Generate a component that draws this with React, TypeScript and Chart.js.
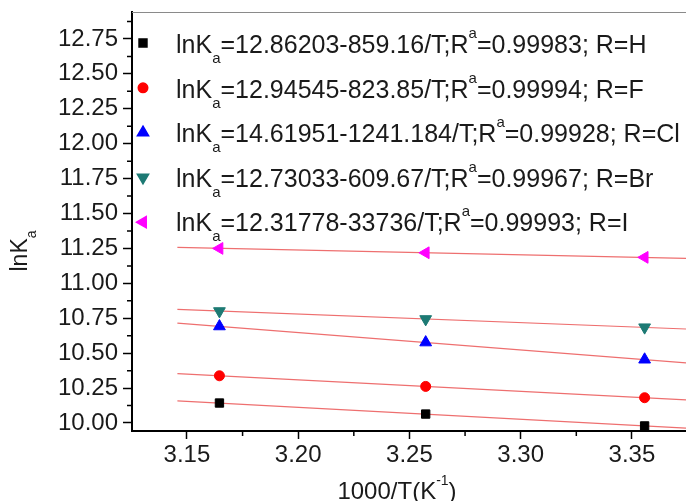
import React, { useEffect, useRef } from 'react';
import { Chart, registerables } from 'chart.js';
import { drawPoint } from 'chart.js/helpers';

Chart.register(...registerables);

// ---------- data ----------
const seriesNames = ['H', 'F', 'Cl', 'Br', 'I'];
const legendLabels = [
  'lnK_{a}=12.86203-859.16/T;R^{a}=0.99983; R=H',
  'lnK_{a}=12.94545-823.85/T;R^{a}=0.99994; R=F',
  'lnK_{a}=14.61951-1241.184/T;R^{a}=0.99928; R=Cl',
  'lnK_{a}=12.73033-609.67/T;R^{a}=0.99967; R=Br',
  'lnK_{a}=12.31778-33736/T;R^{a}=0.99993; R=I',
];
const invT = [3.1646, 3.2573, 3.3557];
const lnKaH = [10.143, 10.064, 9.979];
const lnKaF = [10.338, 10.262, 10.181];
const lnKaCl = [10.692, 10.577, 10.454];
const lnKaBr = [10.801, 10.744, 10.685];
const lnKaI = [11.25, 11.219, 11.186];
const seriesValues = [lnKaH, lnKaF, lnKaCl, lnKaBr, lnKaI];

const fitX = [3.1457, 3.3743];
const fitH = [10.159, 9.963];
const fitF = [10.354, 10.166];
const fitCl = [10.715, 10.431];
const fitBr = [10.813, 10.673];
const fitI = [11.257, 11.179];
const fitValues = [fitH, fitF, fitCl, fitBr, fitI];

const xTicks = [3.15, 3.2, 3.25, 3.3, 3.35];
const xTickLabels = ['3.15', '3.20', '3.25', '3.30', '3.35'];
const xMinorTicks = [3.175, 3.225, 3.275, 3.325];
const yTicks = [10.0, 10.25, 10.5, 10.75, 11.0, 11.25, 11.5, 11.75, 12.0, 12.25, 12.5, 12.75];
const yTickLabels = ['10.00', '10.25', '10.50', '10.75', '11.00', '11.25', '11.50', '11.75', '12.00', '12.25', '12.50', '12.75'];
const yMinorTicks = [10.125, 10.375, 10.625, 10.875, 11.125, 11.375, 11.625, 11.875, 12.125, 12.375, 12.625, 12.875];
const xTitle = '1000/T(K^{-1})';
const yTitle = 'lnK_{a}';

// ---------- styles ----------
const colors = ['#000000', '#ff0000', '#0000ff', '#1d7a74', '#ff00ff'];
const pointStyles = ['rect', 'circle', 'triangle', 'triangle', 'triangle'];
const rotations = [0, 0, 0, 180, 270];
const radii = [5.9, 5, 6.8, 6.8, 6.8];
const FONT = '"Liberation Sans", Arial, sans-serif';

function parseRich(text: string) {
  const parts = text.split(/([_^]\{[^}]*\})/).filter((p) => p.length > 0);
  return parts.map((p) => {
    if (p.startsWith('_{')) return { t: p.slice(2, -1), k: 'sub' };
    if (p.startsWith('^{')) return { t: p.slice(2, -1), k: 'sup' };
    return { t: p, k: 'n' };
  });
}

function richWidth(ctx: CanvasRenderingContext2D, text: string, size: number) {
  let w = 0;
  for (const s of parseRich(text)) {
    const fs = s.k === 'n' ? size : Math.round(size * 0.6);
    ctx.font = `${fs}px ${FONT}`;
    w += ctx.measureText(s.t).width;
  }
  return w;
}

function drawRich(ctx: CanvasRenderingContext2D, text: string, x: number, y: number, size: number) {
  let cx = x;
  ctx.textBaseline = 'alphabetic';
  ctx.textAlign = 'left';
  for (const s of parseRich(text)) {
    if (s.k === 'n') {
      ctx.font = `${size}px ${FONT}`;
      ctx.fillText(s.t, cx, y);
      cx += ctx.measureText(s.t).width;
    } else {
      const fs = Math.round(size * 0.6);
      ctx.font = `${fs}px ${FONT}`;
      const dy = s.k === 'sub' ? size * 0.4 : -size * 0.6;
      ctx.fillText(s.t, cx, y + dy);
      cx += ctx.measureText(s.t).width;
    }
  }
}

const decorPlugin = {
  id: 'decor',
  afterDraw(chart: any) {
    const ctx: CanvasRenderingContext2D = chart.ctx;
    const { left, right, top, bottom } = chart.chartArea;
    const xs = chart.scales.x;
    const ys = chart.scales.y;
    ctx.save();
    // top frame line
    ctx.strokeStyle = '#8a8a8a';
    ctx.lineWidth = 1;
    ctx.beginPath();
    ctx.moveTo(left, top + 0.5);
    ctx.lineTo(right, top + 0.5);
    ctx.stroke();
    // minor ticks
    ctx.strokeStyle = '#000';
    ctx.lineWidth = 1.5;
    ctx.beginPath();
    for (const v of yMinorTicks) {
      const py = ys.getPixelForValue(v);
      ctx.moveTo(left - 5, py);
      ctx.lineTo(left, py);
    }
    for (const v of xMinorTicks) {
      const px = xs.getPixelForValue(v);
      if (px > right) continue;
      ctx.moveTo(px, bottom);
      ctx.lineTo(px, bottom + 5);
    }
    ctx.stroke();

    // legend
    for (let i = 0; i < seriesNames.length; i++) {
      const rowY = 43 + 44.8 * i;
      ctx.fillStyle = colors[i];
      ctx.strokeStyle = colors[i];
      drawPoint(ctx, { pointStyle: pointStyles[i], rotation: rotations[i], radius: radii[i] * 0.95, borderWidth: 1 } as any, 143, rowY);
      ctx.fillStyle = '#1a1a1a';
      drawRich(ctx, legendLabels[i], 176, 53 + 44.5 * i, 25);
    }

    // x title
    ctx.fillStyle = '#1a1a1a';
    const xw = richWidth(ctx, xTitle, 24);
    drawRich(ctx, xTitle, 397 - xw / 2, 499, 24);

    // y title
    const yw = richWidth(ctx, yTitle, 23);
    ctx.translate(27, 251);
    ctx.rotate(-Math.PI / 2);
    drawRich(ctx, yTitle, -yw / 2, 0, 23);
    ctx.restore();
  },
};

export default function App() {
  const ref = useRef<HTMLCanvasElement | null>(null);
  useEffect(() => {
    if (!ref.current) return;
    const pointSets = seriesNames.map((name, i) => ({
      type: 'scatter' as const,
      label: name,
      data: invT.map((x, j) => ({ x, y: seriesValues[i][j] })),
      backgroundColor: colors[i],
      borderColor: colors[i],
      borderWidth: 1,
      pointStyle: pointStyles[i],
      rotation: rotations[i],
      pointRadius: radii[i],
      showLine: false,
    }));
    const lineSets = seriesNames.map((name, i) => ({
      type: 'line' as const,
      label: name + ' fit',
      data: fitX.map((x, j) => ({ x, y: fitValues[i][j] })),
      borderColor: '#ee6f6f',
      borderWidth: 1.2,
      pointRadius: 0,
      showLine: true,
      fill: false,
    }));
    const chart = new Chart(ref.current, {
      type: 'scatter',
      data: { datasets: [...pointSets, ...lineSets] as any },
      options: {
        animation: false,
        responsive: false,
        devicePixelRatio: 1,
        layout: { autoPadding: false, padding: { top: 12, left: 0, right: 0, bottom: 0 } },
        plugins: { legend: { display: false }, tooltip: { enabled: false }, title: { display: false } },
        scales: {
          x: {
            type: 'linear',
            min: 3.1253,
            max: 3.3743,
            afterBuildTicks: (s: any) => {
              s.ticks = xTicks.map((v) => ({ value: v }));
            },
            afterFit: (s: any) => {
              s.height = 70;
              s.paddingRight = 0;
              s.paddingLeft = 0;
            },
            grid: { drawOnChartArea: false, drawTicks: true, tickLength: 8, tickColor: '#000', tickWidth: 1.5 },
            border: { display: true, color: '#000', width: 2 },
            ticks: {
              autoSkip: false,
              maxRotation: 0,
              padding: 2,
              color: '#1a1a1a',
              font: { size: 24, family: FONT },
              callback: (v: any) => {
                const k = xTicks.findIndex((t) => Math.abs(t - Number(v)) < 1e-6);
                return k >= 0 ? xTickLabels[k] : '';
              },
            },
          },
          y: {
            type: 'linear',
            min: 9.9427,
            max: 12.943,
            afterBuildTicks: (s: any) => {
              s.ticks = yTicks.map((v) => ({ value: v }));
            },
            afterFit: (s: any) => {
              s.width = 132;
              s.paddingTop = 0;
              s.paddingBottom = 0;
            },
            grid: { drawOnChartArea: false, drawTicks: true, tickLength: 9, tickColor: '#000', tickWidth: 1.5 },
            border: { display: true, color: '#000', width: 2 },
            ticks: {
              autoSkip: false,
              padding: 5,
              color: '#1a1a1a',
              font: { size: 24, family: FONT },
              callback: (v: any) => {
                const k = yTicks.findIndex((t) => Math.abs(t - Number(v)) < 1e-6);
                return k >= 0 ? yTickLabels[k] : '';
              },
            },
          },
        },
      },
      plugins: [decorPlugin],
    });
    return () => chart.destroy();
  }, []);
  return (
    <div style={{ position: 'fixed', left: 0, top: 0, width: 686, height: 501, background: '#fff' }}>
      <canvas ref={ref} width={686} height={501} style={{ display: 'block', width: 686, height: 501 }} />
    </div>
  );
}
